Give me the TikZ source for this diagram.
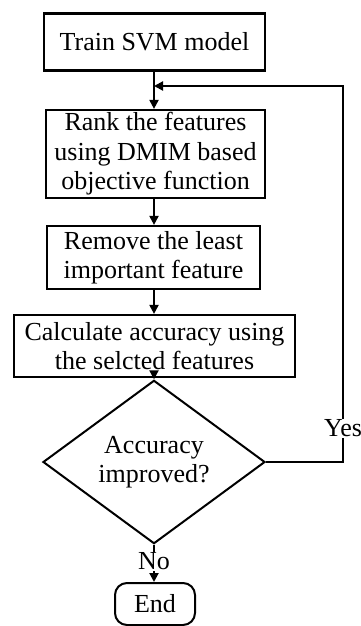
\documentclass[tikz,border=0pt]{standalone}
\usepackage{fontspec}
\setmainfont{Liberation Serif}
\usetikzlibrary{shapes.geometric,arrows.meta}
\begin{document}
\begin{tikzpicture}[x=1pt,y=-1pt,
  every node/.style={font=\fontsize{26}{29.5}\selectfont, align=center, inner sep=0pt},
  procbox/.style={draw, line width=2.2pt, rectangle},
  decbox/.style={draw, line width=2pt, diamond},
  termbox/.style={draw, line width=2pt, rectangle, rounded corners=12pt},
  conn/.style={line width=2pt, -{Triangle[length=9pt,width=9pt]}},
  lbl/.style={fill=white, inner sep=1pt}]
\useasboundingbox (0,0) rectangle (361,626);
\node[procbox, minimum width=221pt, minimum height=57pt] (train) at (154.5,42) {Train SVM model};
\node[procbox, minimum width=219pt, minimum height=88pt] (rank) at (155.5,154) {Rank the features\\using DMIM based\\objective function};
\node[procbox, minimum width=213pt, minimum height=63pt] (remove) at (153.5,257.5) {Remove the least\\important feature};
\node[procbox, minimum width=281pt, minimum height=62pt] (calc) at (154.5,346) {Calculate accuracy using\\the selcted features};
\node[decbox, minimum width=222pt, minimum height=115pt] (dec) at (154,462) {Accuracy\\improved?};
\node[termbox, minimum width=80pt, minimum height=42pt] (end) at (155,604) {End};
\coordinate (join) at (154,86);
\coordinate (rtop) at (343,86);
\coordinate (rbot) at (343,462);
\draw[conn] (train.south -| join) -- (rank.north -| join);
\draw[conn] (rank.south -| join) -- (remove.north -| join);
\draw[conn] (remove.south -| join) -- (calc.north -| join);
\draw[conn] (calc.south -| join) -- (dec.north);
\draw[conn] (dec.south) -- node[lbl, pos=0.45] (no) {No} (end.north -| dec.south);
\draw[conn] (dec.east) -- (rbot) -- node[lbl, pos=0.09] (yes) {Yes} (rtop) -- (join);
\end{tikzpicture}
\end{document}
